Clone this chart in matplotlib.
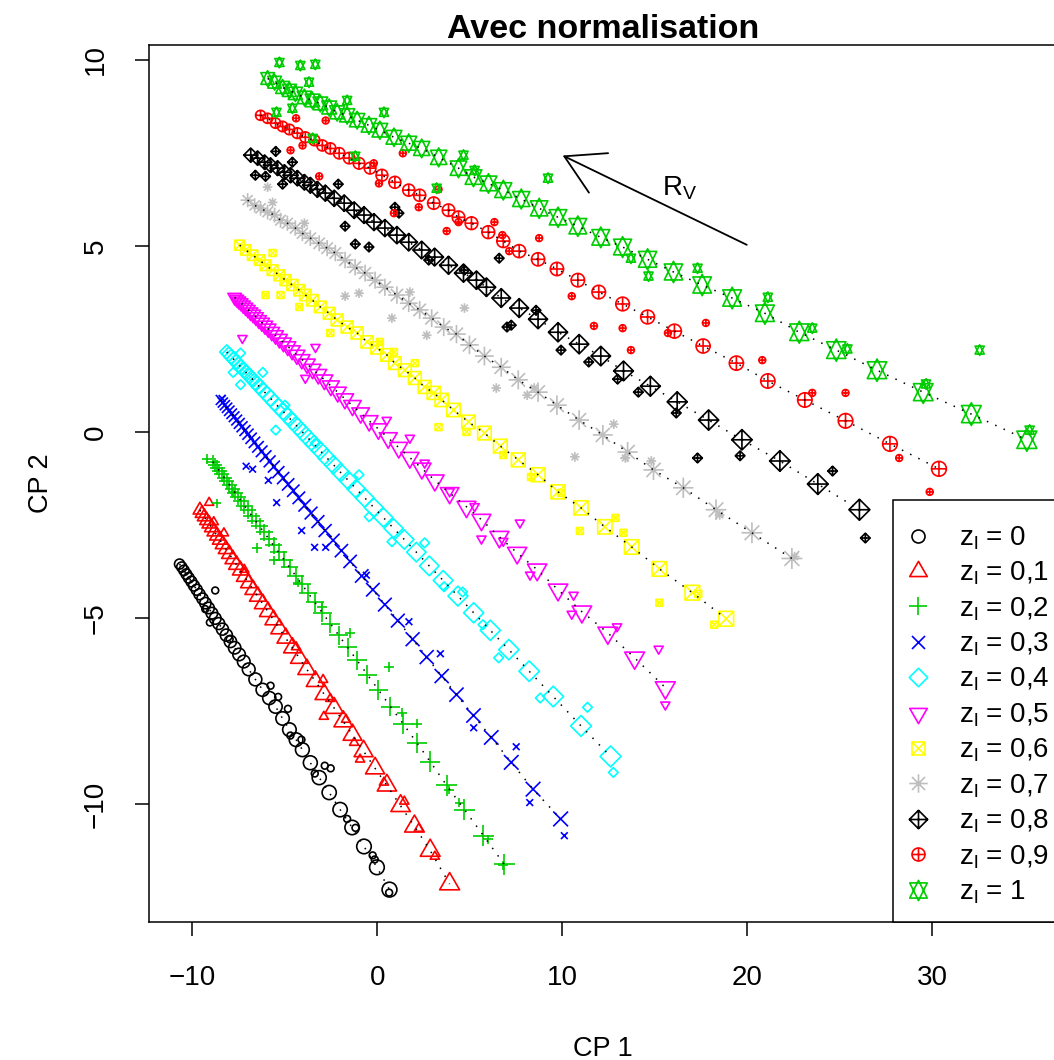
import numpy as np
import matplotlib
matplotlib.use("Agg")
import matplotlib.pyplot as plt
from matplotlib.path import Path
from matplotlib.lines import Line2D
from matplotlib.patches import Rectangle

plt.rcParams['font.family'] = ['Liberation Sans', 'DejaVu Sans']
plt.rcParams['mathtext.fontset'] = 'custom'
plt.rcParams['mathtext.rm'] = 'Liberation Sans'
plt.rcParams['mathtext.it'] = 'Liberation Sans:italic'
plt.rcParams['mathtext.default'] = 'regular'

# ---- donnees (CP 1, CP 2) ----
zl_labels = ["0", "0,1", "0,2", "0,3", "0,4", "0,5", "0,6", "0,7", "0,8", "0,9", "1"]
colors = ["black", "#FF0000", "#00CD00", "#0000FF", "#00FFFF", "#FF00FF",
          "#FFFF00", "#BEBEBE", "black", "#FF0000", "#00CD00"]

# zl = 0 (cercles)
c0_big = [(-10.70, -3.55), (-10.58, -3.63), (-10.46, -3.72), (-10.33, -3.82), (-10.20, -3.92),
          (-10.06, -4.02), (-9.92, -4.13), (-9.77, -4.24), (-9.62, -4.36), (-9.46, -4.48),
          (-9.30, -4.60), (-9.13, -4.73), (-8.95, -4.87), (-8.77, -5.01), (-8.58, -5.15),
          (-8.38, -5.30), (-8.17, -5.46), (-7.95, -5.63), (-7.72, -5.80), (-7.48, -5.98),
          (-7.23, -6.17), (-6.96, -6.38), (-6.60, -6.65), (-6.21, -6.93), (-5.85, -7.15),
          (-5.51, -7.38), (-5.13, -7.70), (-4.76, -8.00), (-4.40, -8.27), (-4.06, -8.54),
          (-3.63, -8.89), (-3.15, -9.29), (-2.61, -9.69), (-2.02, -10.15), (-1.37, -10.63),
          (-0.73, -11.14), (-0.03, -11.70), (0.65, -12.30)]
c0_small = [(-8.77, -4.26), (-9.31, -4.76), (-9.06, -5.12), (-7.99, -5.57), (-5.78, -6.82),
            (-5.37, -7.12), (-4.84, -7.44), (-4.71, -8.16), (-4.11, -8.27), (-2.85, -8.97),
            (-2.53, -9.04), (-3.39, -9.18), (-1.64, -10.40), (-1.19, -10.64), (-0.26, -11.38),
            (-0.15, -11.49), (0.63, -12.38)]

# zl = 0,1 (triangles)
c1_big = [(-9.60, -2.10), (-9.48, -2.19), (-9.36, -2.28), (-9.23, -2.38), (-9.10, -2.47),
          (-8.96, -2.57), (-8.82, -2.68), (-8.67, -2.79), (-8.52, -2.90), (-8.36, -3.02),
          (-8.19, -3.15), (-8.01, -3.28), (-7.82, -3.42), (-7.62, -3.57), (-7.41, -3.72),
          (-7.19, -3.89), (-6.96, -4.06), (-6.72, -4.24), (-6.47, -4.42), (-6.20, -4.62),
          (-5.92, -4.83), (-5.62, -5.05), (-5.30, -5.29), (-4.96, -5.54), (-4.60, -5.80),
          (-4.22, -6.08), (-3.82, -6.38), (-3.36, -6.70), (-2.88, -7.05), (-2.34, -7.42),
          (-1.85, -7.78), (-1.35, -8.14), (-0.75, -8.58), (-0.13, -9.04), (0.51, -9.50),
          (1.25, -10.05), (2.00, -10.60), (2.85, -11.25), (3.90, -12.15)]
c1_small = [(-9.10, -1.90), (-8.85, -2.42), (-8.30, -2.72), (-7.20, -3.70), (-4.40, -5.78),
            (-2.94, -6.66), (-2.55, -7.17), (-2.90, -7.65), (-1.70, -7.73), (-1.26, -8.35),
            (-0.94, -8.80), (0.35, -9.42), (1.45, -9.93), (2.23, -10.66), (3.10, -11.41)]

# zl = 0,2 (plus)
c2_big = [(-8.90, -0.80), (-8.78, -0.88), (-8.66, -0.96), (-8.54, -1.05), (-8.41, -1.14),
          (-8.28, -1.23), (-8.14, -1.32), (-8.00, -1.42), (-7.85, -1.52), (-7.70, -1.63),
          (-7.54, -1.74), (-7.37, -1.86), (-7.19, -1.98), (-7.00, -2.11), (-6.80, -2.25),
          (-6.59, -2.39), (-6.37, -2.54), (-6.13, -2.70), (-5.88, -2.87), (-5.62, -3.05),
          (-5.35, -3.23), (-5.06, -3.43), (-4.75, -3.64), (-4.43, -3.86), (-4.10, -4.09),
          (-3.75, -4.33), (-3.38, -4.58), (-2.98, -4.86), (-2.55, -5.15), (-2.10, -5.46),
          (-1.62, -5.79), (-1.10, -6.14), (-0.55, -6.52), (0.05, -6.93), (0.70, -7.38),
          (1.40, -7.85), (2.12, -8.35), (2.85, -8.86), (3.74, -9.50), (4.70, -10.15),
          (5.73, -10.85), (6.85, -11.62)]
c2_small = [(-9.20, -0.72), (-8.70, -1.92), (-7.80, -1.62), (-6.50, -3.12), (-5.60, -3.45),
            (-4.30, -4.05), (-3.00, -4.70), (-1.48, -5.40), (0.62, -6.31), (1.32, -7.54),
            (2.12, -7.84), (3.85, -9.61), (4.43, -9.96), (5.99, -10.95), (6.80, -11.65)]

# zl = 0,3 (croix)
c3_big = [(-8.47, 0.86), (-8.36, 0.79), (-8.25, 0.72), (-8.13, 0.65), (-8.01, 0.57),
          (-7.88, 0.49), (-7.75, 0.41), (-7.61, 0.32), (-7.47, 0.23), (-7.32, 0.14),
          (-7.16, 0.04), (-7.00, -0.06), (-6.83, -0.17), (-6.65, -0.28), (-6.46, -0.40),
          (-6.26, -0.52), (-6.05, -0.65), (-5.83, -0.79), (-5.60, -0.93), (-5.36, -1.08),
          (-5.10, -1.24), (-4.83, -1.41), (-4.55, -1.58), (-4.25, -1.77), (-3.93, -1.97),
          (-3.59, -2.18), (-3.22, -2.41), (-2.83, -2.65), (-2.40, -2.91), (-1.95, -3.19),
          (-1.48, -3.48), (-0.85, -3.87), (-0.25, -4.24), (0.40, -4.64), (1.10, -5.07),
          (1.90, -5.57), (2.66, -6.05), (3.47, -6.56), (4.27, -7.06), (5.19, -7.62),
          (6.15, -8.21), (7.23, -8.88), (8.41, -9.60), (9.90, -10.40)]
c3_small = [(-8.40, 0.90), (-6.75, -1.00), (-7.10, -0.92), (-5.90, -1.30), (-5.45, -1.90),
            (-4.10, -2.65), (-3.40, -3.10), (-2.80, -3.10), (-0.60, -3.85), (1.70, -5.10),
            (3.40, -5.96), (5.20, -7.95), (7.50, -8.46), (8.23, -9.96), (10.10, -10.85)]

# zl = 0,4 (losanges)
c4_big = [(-8.15, 2.15), (-8.03, 2.09), (-7.91, 2.02), (-7.78, 1.96), (-7.65, 1.89),
          (-7.51, 1.81), (-7.37, 1.74), (-7.22, 1.66), (-7.07, 1.58), (-6.91, 1.50),
          (-6.74, 1.41), (-6.57, 1.32), (-6.39, 1.22), (-6.20, 1.12), (-6.00, 1.02),
          (-5.79, 0.91), (-5.57, 0.79), (-5.34, 0.67), (-5.10, 0.55), (-4.85, 0.42),
          (-4.59, 0.28), (-4.32, 0.14), (-4.04, -0.01), (-3.74, -0.17), (-3.43, -0.33),
          (-3.10, -0.50), (-2.75, -0.69), (-2.38, -0.88), (-1.99, -1.09), (-1.58, -1.30),
          (-1.15, -1.53), (-0.69, -1.77), (-0.20, -2.03), (0.32, -2.30), (0.87, -2.59),
          (1.45, -2.89), (2.10, -3.23), (2.80, -3.60), (3.55, -3.99), (4.35, -4.41),
          (5.20, -4.86), (6.10, -5.33), (7.10, -5.85), (8.20, -6.43), (9.50, -7.11),
          (11.00, -7.90), (12.60, -8.72)]
c4_small = [(-7.40, 2.12), (-7.80, 1.60), (-7.40, 1.27), (-6.20, 1.60), (-5.50, 0.05),
            (-5.00, 0.72), (-3.35, -0.30), (-1.00, -1.15), (-0.45, -2.28), (0.78, -2.95),
            (2.55, -2.98), (3.60, -4.16), (4.60, -4.30), (5.70, -5.18), (6.55, -6.07),
            (8.80, -7.15), (11.35, -7.40), (12.75, -9.15)]

# zl = 0,5 (triangles inverses)
c5_big = [(-7.72, 3.62), (-7.61, 3.57), (-7.50, 3.52), (-7.38, 3.47), (-7.26, 3.41),
          (-7.13, 3.35), (-7.00, 3.29), (-6.86, 3.22), (-6.72, 3.16), (-6.57, 3.09),
          (-6.41, 3.01), (-6.25, 2.94), (-6.08, 2.86), (-5.90, 2.78), (-5.71, 2.69),
          (-5.51, 2.60), (-5.30, 2.50), (-5.08, 2.40), (-4.85, 2.30), (-4.61, 2.19),
          (-4.36, 2.07), (-4.09, 1.95), (-3.81, 1.83), (-3.51, 1.69), (-3.20, 1.55),
          (-2.87, 1.40), (-2.52, 1.24), (-2.15, 1.07), (-1.76, 0.89), (-1.35, 0.71),
          (-0.91, 0.51), (-0.45, 0.30), (0.05, 0.08), (0.58, -0.16), (1.15, -0.42),
          (1.75, -0.69), (2.40, -0.98), (3.10, -1.30), (3.90, -1.64), (4.81, -2.01),
          (5.62, -2.36), (6.59, -2.82), (7.55, -3.25), (8.63, -3.70), (9.76, -4.24),
          (11.05, -4.83), (12.45, -5.40), (13.90, -6.07), (15.56, -6.87)]
c5_small = [(-7.30, 2.52), (-3.35, 2.28), (-3.90, 1.45), (0.50, 0.32), (1.75, -0.16),
            (2.55, -0.83), (3.90, -1.60), (5.25, -2.00), (5.62, -2.87), (6.80, -2.93),
            (7.70, -2.44), (8.25, -3.84), (10.60, -4.38), (10.50, -4.89), (12.95, -5.23),
            (15.20, -5.83), (15.56, -7.33)]

# zl = 0,6 (carres barres)
c6_big = [(-7.45, 5.02), (-7.12, 4.89), (-6.75, 4.75), (-6.37, 4.62), (-6.05, 4.48),
          (-5.67, 4.35), (-5.30, 4.21), (-4.97, 4.08), (-4.60, 3.95), (-4.22, 3.81),
          (-3.90, 3.68), (-3.52, 3.54), (-3.09, 3.36), (-2.61, 3.19), (-2.18, 3.01),
          (-1.64, 2.82), (-1.10, 2.66), (-0.56, 2.42), (-0.03, 2.26), (0.51, 2.07),
          (0.94, 1.85), (1.48, 1.66), (2.02, 1.45), (2.55, 1.21), (3.04, 1.05),
          (3.47, 0.86), (4.11, 0.59), (4.92, 0.27), (5.78, -0.03), (6.64, -0.38),
          (7.61, -0.75), (8.68, -1.15), (9.76, -1.61), (11.00, -2.04), (12.29, -2.55),
          (13.74, -3.09), (15.24, -3.68), (17.02, -4.32), (18.85, -5.02)]
c6_small = [(-5.67, 4.81), (-6.05, 3.68), (-5.24, 3.68), (-4.22, 3.36), (-2.55, 2.66),
            (0.13, 2.42), (0.89, 2.15), (2.02, 1.85), (3.30, 0.13), (4.81, 0.00),
            (6.80, -0.62), (8.30, -1.21), (9.92, -1.64), (10.94, -2.66), (12.87, -2.31),
            (13.30, -2.71), (15.24, -4.59), (17.34, -4.35), (18.20, -5.18)]

# zl = 0,7 (etoiles)
c7_big = [(-7.02, 6.23), (-6.64, 6.09), (-6.32, 6.01), (-5.94, 5.91), (-5.56, 5.83),
          (-5.24, 5.69), (-4.87, 5.61), (-4.44, 5.48), (-4.06, 5.34), (-3.63, 5.21),
          (-3.15, 5.07), (-2.72, 4.94), (-2.28, 4.81), (-1.75, 4.62), (-1.21, 4.43),
          (-0.67, 4.27), (-0.13, 4.08), (0.40, 3.89), (1.05, 3.68), (1.69, 3.46),
          (2.28, 3.28), (2.93, 3.06), (3.58, 2.82), (4.27, 2.63), (4.97, 2.34),
          (5.78, 2.04), (6.69, 1.74), (7.61, 1.40), (8.68, 1.07), (9.70, 0.72),
          (10.90, 0.32), (12.18, -0.08), (13.52, -0.54), (14.92, -1.02), (16.53, -1.50),
          (18.30, -2.09), (20.24, -2.71), (22.40, -3.40)]
c7_small = [(-5.94, 6.58), (-5.67, 6.17), (-3.95, 5.61), (-1.75, 3.65), (-1.00, 3.73),
            (0.78, 3.06), (1.75, 3.76), (2.66, 2.60), (4.70, 3.33), (6.42, 1.18),
            (8.09, 0.99), (8.47, 1.18), (10.67, -0.67), (12.77, 0.21), (13.40, -0.70),
            (14.80, -0.78), (18.50, -2.23), (22.55, -3.35)]

# zl = 0,8 (losanges croises)
c8_big = [(-6.85, 7.44), (-6.48, 7.36), (-6.10, 7.25), (-5.78, 7.17), (-5.40, 7.09),
          (-5.03, 6.98), (-4.70, 6.90), (-4.33, 6.82), (-3.95, 6.71), (-3.63, 6.63),
          (-3.25, 6.52), (-2.82, 6.42), (-2.34, 6.28), (-1.80, 6.15), (-1.26, 5.96),
          (-0.73, 5.83), (-0.19, 5.64), (0.40, 5.48), (1.05, 5.29), (1.69, 5.10),
          (2.39, 4.89), (3.09, 4.70), (3.84, 4.48), (4.65, 4.27), (5.35, 4.08),
          (5.89, 3.89), (6.69, 3.60), (7.66, 3.33), (8.68, 3.03), (9.76, 2.68),
          (10.90, 2.36), (12.07, 2.04), (13.30, 1.64), (14.75, 1.23), (16.20, 0.81),
          (17.90, 0.32), (19.70, -0.21), (21.75, -0.78), (23.80, -1.40), (26.05, -2.09)]
c8_small = [(-5.50, 7.54), (-6.60, 6.90), (-6.05, 6.87), (-5.13, 6.66), (-4.60, 7.25),
            (-2.12, 6.66), (-1.75, 5.53), (-1.20, 5.05), (-0.46, 4.97), (0.94, 6.04),
            (1.16, 5.88), (2.77, 4.62), (4.70, 4.35), (6.58, 4.67), (7.00, 2.82),
            (7.23, 2.87), (8.57, 3.27), (9.92, 2.20), (11.42, 1.88), (12.98, 1.42),
            (14.10, 1.07), (16.15, 0.51), (17.30, -0.70), (19.60, -0.64), (24.60, -1.05),
            (26.37, -2.85)]

# zl = 0,9 (cercles croises)
c9_big = [(-6.32, 8.51), (-5.94, 8.43), (-5.51, 8.30), (-5.13, 8.21), (-4.76, 8.13),
          (-4.33, 8.03), (-3.90, 7.92), (-3.41, 7.84), (-2.98, 7.70), (-2.55, 7.62),
          (-2.07, 7.49), (-1.53, 7.36), (-1.00, 7.22), (-0.40, 7.09), (0.24, 6.90),
          (0.94, 6.71), (1.69, 6.50), (2.28, 6.36), (3.04, 6.15), (3.84, 5.96),
          (4.38, 5.77), (5.08, 5.61), (5.99, 5.37), (6.80, 5.13), (7.66, 4.86),
          (8.68, 4.64), (9.70, 4.38), (10.83, 4.08), (11.96, 3.76), (13.25, 3.44),
          (14.60, 3.09), (16.05, 2.71), (17.60, 2.31), (19.40, 1.85), (21.10, 1.37),
          (23.10, 0.86), (25.30, 0.30), (27.70, -0.32), (30.35, -0.99)]
c9_small = [(-4.40, 8.43), (-2.80, 8.37), (-4.70, 7.57), (-4.05, 7.70), (-3.15, 6.87),
            (-0.20, 7.22), (0.08, 6.68), (1.37, 7.49), (0.89, 5.88), (2.23, 6.04),
            (3.30, 6.52), (3.74, 5.40), (4.38, 5.64), (6.32, 5.64), (6.75, 5.29),
            (7.12, 4.86), (8.74, 5.21), (10.50, 3.65), (11.70, 2.85), (13.25, 2.79),
            (13.70, 2.20), (15.70, 2.66), (17.75, 2.93), (20.80, 1.93), (23.50, 1.05),
            (25.30, 1.05), (28.20, -0.70), (29.85, -1.61)]

# zl = 1 (etoiles de David)
c10_big = [(-5.94, 9.50), (-5.56, 9.40), (-5.13, 9.26), (-4.76, 9.18), (-4.44, 9.10),
           (-3.95, 8.99), (-3.52, 8.91), (-3.09, 8.83), (-2.61, 8.72), (-2.18, 8.59),
           (-1.64, 8.51), (-1.10, 8.38), (-0.46, 8.24), (0.13, 8.11), (0.89, 7.92),
           (1.69, 7.76), (2.39, 7.62), (3.31, 7.38), (4.38, 7.09), (5.19, 6.85),
           (6.00, 6.68), (6.80, 6.50), (7.77, 6.26), (8.74, 6.01), (9.76, 5.77),
           (10.83, 5.53), (12.07, 5.23), (13.25, 4.97), (14.60, 4.64), (16.00, 4.30),
           (17.55, 3.95), (19.17, 3.60), (20.94, 3.19), (22.80, 2.68), (24.80, 2.20),
           (27.00, 1.66), (29.50, 1.07), (32.10, 0.48), (35.10, -0.21)]
c10_small = [(-5.30, 9.93), (-4.17, 9.85), (-3.36, 9.88), (-3.70, 9.40), (-5.46, 8.59),
             (-4.60, 8.70), (-1.64, 8.91), (0.35, 8.59), (-3.50, 7.89), (-1.20, 7.41),
             (4.65, 7.44), (3.20, 6.55), (5.25, 7.03), (9.22, 6.82), (13.70, 4.67),
             (14.65, 4.19), (17.30, 4.40), (21.10, 3.62), (23.50, 2.79), (25.40, 2.23),
             (29.65, 1.29), (32.55, 2.20), (35.25, 0.05)]

big_sets = [c0_big, c1_big, c2_big, c3_big, c4_big, c5_big, c6_big, c7_big, c8_big, c9_big, c10_big]
small_sets = [c0_small, c1_small, c2_small, c3_small, c4_small, c5_small, c6_small,
              c7_small, c8_small, c9_small, c10_small]

# ---- symboles pch 1..11 (geometrie R, unite = rayon du cercle) ----
M, L, C = Path.MOVETO, Path.LINETO, Path.CLOSEPOLY


def poly(pts):
    return Path(pts + [pts[0]], [M] + [L] * (len(pts) - 1) + [C])


def seg(a, b):
    return Path([a, b], [M, L])


TRC0, TRC1, TRC2 = 1.55512030155621, 1.34677368708859, 0.77756015077810
R2 = np.sqrt(2)
tri_up = poly([(0, TRC0), (TRC1, -TRC2), (-TRC1, -TRC2)])
tri_dn = poly([(0, -TRC0), (TRC1, TRC2), (-TRC1, TRC2)])
plus = Path.make_compound_path(seg((-R2, 0), (R2, 0)), seg((0, -R2), (0, R2)))
cross = Path.make_compound_path(seg((-1, -1), (1, 1)), seg((-1, 1), (1, -1)))
diamond = poly([(0, R2), (R2, 0), (0, -R2), (-R2, 0)])
square = poly([(-1, -1), (1, -1), (1, 1), (-1, 1)])
yc11 = 0.5 * (TRC2 + TRC0)
hexa = Path.make_compound_path(poly([(0, -TRC0), (TRC1, yc11), (-TRC1, yc11)]),
                               poly([(0, TRC0), (TRC1, -yc11), (-TRC1, -yc11)]))
markers = [
    Path.unit_circle(),
    tri_up,
    plus,
    cross,
    diamond,
    tri_dn,
    Path.make_compound_path(square, cross),
    Path.make_compound_path(plus, cross),
    Path.make_compound_path(diamond, plus),
    Path.make_compound_path(Path.unit_circle(), seg((-1, 0), (1, 0)), seg((0, -1), (0, 1))),
    hexa,
]

PT_PER_PX = 72 / 100


def msize(path, r_px):
    # taille matplotlib (pt) pour un rayon R (px)
    return 2 * np.abs(path.vertices).max() * np.asarray(r_px) * PT_PER_PX


fig = plt.figure(figsize=(10.54, 10.6), dpi=100)
ax = fig.add_axes([149 / 1054, 1 - 922 / 1060, 908 / 1054, 877 / 1060])

for big, small, mk, col in zip(big_sets, small_sets, markers, colors):
    bx, by = np.array(big).T
    sx, sy = np.array(small).T
    r_big = np.linspace(5.0, 7.4, len(bx))
    ax.scatter(sx, sy, marker=mk, s=msize(mk, 3.4) ** 2, facecolors='none',
               edgecolors=col, linewidths=1.2, zorder=2)
    ax.scatter(bx, by, marker=mk, s=msize(mk, r_big) ** 2, facecolors='none',
               edgecolors=col, linewidths=1.2, zorder=2)
    ax.plot(bx, by, color='black', lw=1.1, ls=(0, (1, 5)), zorder=3)

# fleche R_V
ax.annotate('', xy=(10.01, 7.43), xytext=(19.96, 5.03),
            arrowprops=dict(arrowstyle='->,head_length=2.74,head_width=1.58',
                            mutation_scale=10, lw=1.3, color='black',
                            shrinkA=0, shrinkB=0))
ax.text(16.35, 6.56, 'R$_\\mathregular{V}$', fontsize=20, ha='center', va='center')

ax.set_xlim(-12.35, 36.73)
ax.set_ylim(-13.17, 10.40)
ax.set_xticks([-10, 0, 10, 20, 30])
ax.set_yticks([-10, -5, 0, 5, 10])
ax.tick_params(direction='out', length=10, width=1.1, labelsize=20)
ax.tick_params(axis='x', pad=21)
ax.tick_params(axis='y', pad=19)
for lab in ax.get_yticklabels():
    lab.set_rotation(90)
    lab.set_va('center')
for sp in ax.spines.values():
    sp.set_linewidth(1.1)

ax.set_title('Avec normalisation', fontsize=24.5, fontweight='bold', pad=4)
ax.set_xlabel('CP 1', fontsize=19.5)
ax.set_ylabel('CP 2', fontsize=19.5)
ax.xaxis.set_label_coords(0.5, -0.130)
ax.yaxis.set_label_coords(-0.105, 0.5)

# cadre de la legende (coin bas droit du graphe)
ax.add_patch(Rectangle((0.8194, 0.0), 0.2, 0.4812, transform=ax.transAxes,
                       facecolor='white', edgecolor='black', lw=1.1,
                       zorder=4.5, clip_on=False))
handles = [Line2D([], [], marker=mk, markersize=float(msize(mk, 6.5)), mfc='none',
                  mec=col, mew=1.2, ls='none') for mk, col in zip(markers, colors)]
labels = ['z$_l$ = ' + z for z in zl_labels]
leg = ax.legend(handles, labels, loc='upper left', bbox_to_anchor=(0.8315, 0.4535),
                borderaxespad=0, borderpad=0, fontsize=20, frameon=False,
                handlelength=1.0, handletextpad=0.98, labelspacing=0.285)
leg.set_zorder(5)

fig.savefig('out.png', dpi=100)
